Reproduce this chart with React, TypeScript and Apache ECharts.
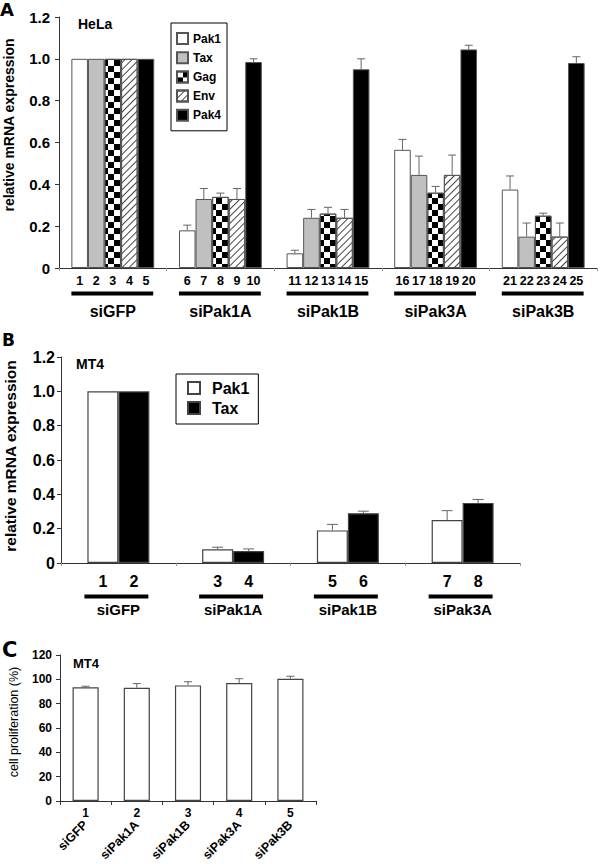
import React, { useEffect, useRef } from "react";
import * as echarts from "echarts";

// ---------- Panel A (HeLa) ----------
const groupsA = ["siGFP", "siPak1A", "siPak1B", "siPak3A", "siPak3B"];
const genesA = ["Pak1", "Tax", "Gag", "Env", "Pak4"];
const pak1A = [1.0, 0.18, 0.07, 0.565, 0.375];
const pak1ErrA = [0, 0.025, 0.015, 0.05, 0.065];
const taxA = [1.0, 0.33, 0.24, 0.445, 0.15];
const taxErrA = [0, 0.05, 0.04, 0.09, 0.065];
const gagA = [1.0, 0.34, 0.26, 0.36, 0.25];
const gagErrA = [0, 0.018, 0.03, 0.03, 0.012];
const envA = [1.0, 0.33, 0.24, 0.445, 0.15];
const envErrA = [0, 0.05, 0.04, 0.095, 0.065];
const pak4A = [1.0, 0.985, 0.95, 1.045, 0.98];
const pak4ErrA = [0, 0.015, 0.05, 0.02, 0.03];
const laneLabelsA = [
  ["1", "2", "3", "4", "5"],
  ["6", "7", "8", "9", "10"],
  ["11", "12", "13", "14", "15"],
  ["16", "17", "18", "19", "20"],
  ["21", "22", "23", "24", "25"],
];

// ---------- Panel B (MT4) ----------
const groupsB = ["siGFP", "siPak1A", "siPak1B", "siPak3A"];
const genesB = ["Pak1", "Tax"];
const pak1B = [1.0, 0.08, 0.19, 0.25];
const pak1ErrB = [0, 0.012, 0.035, 0.055];
const taxB = [1.0, 0.07, 0.29, 0.35];
const taxErrB = [0, 0.012, 0.012, 0.02];
const laneLabelsB = [["1", "2"], ["3", "4"], ["5", "6"], ["7", "8"]];

// ---------- Panel C (MT4 proliferation) ----------
const groupsC = ["siGFP", "siPak1A", "siPak1B", "siPak3A", "siPak3B"];
const laneLabelsC = ["1", "2", "3", "4", "5"];
const prolifC = [93.5, 93, 95, 97, 100.5];
const prolifErrC = [0.8, 3.5, 3, 3.5, 2];

const FF = "'Liberation Sans', Arial, sans-serif";
const FN = "'Liberation Sans Narrow', 'Liberation Sans', Arial, sans-serif";
const FL = "'DejaVu Sans', 'Liberation Sans', sans-serif";

const GAP_A = 0.23;
const GAP_B = 0.46;
const GAP_C = 0.49;

const checkerDecal = {
  symbol: "rect",
  symbolSize: 1,
  color: "#000",
  dashArrayX: [
    [5.5, 5.5],
    [0, 5.5, 5.5, 0],
  ],
  dashArrayY: [5.5, 0],
  rotation: 0,
};
const hatchDecal = {
  symbol: "rect",
  symbolSize: 1,
  color: "#444",
  dashArrayX: [1, 0],
  dashArrayY: [1, 4],
  rotation: -Math.PI / 4,
};

function errRenderer(k: number, n: number, gap: number, cap: number) {
  return (params: any, api: any) => {
    const cat = api.value(0);
    const v = api.value(1);
    const e = api.value(2);
    if (!e) return null;
    const band = api.size([1, 0])[0];
    const bw = (band * (1 - gap)) / n;
    const base = api.coord([cat, v]);
    const x = base[0] + (k - (n - 1) / 2) * bw;
    const top = api.coord([cat, v + e])[1];
    return {
      type: "group",
      children: [
        { type: "line", shape: { x1: x, y1: base[1], x2: x, y2: top }, style: { stroke: "#666", lineWidth: 1 } },
        { type: "line", shape: { x1: x - cap, y1: top, x2: x + cap, y2: top }, style: { stroke: "#666", lineWidth: 1 } },
      ],
    };
  };
}

function laneRenderer(
  n: number,
  gap: number,
  lanes: string[][],
  o: { numOff: number; numSize: number; numFont: string; lineOff: number; lineExtL: number; lineExtR: number }
) {
  return (params: any, api: any) => {
    const cat = api.value(0);
    const band = api.size([1, 0])[0];
    const bw = (band * (1 - gap)) / n;
    const p = api.coord([cat, 0]);
    const cx = p[0];
    const y0 = p[1];
    const children: any[] = [];
    lanes[cat].forEach((t, j) => {
      const x = cx + (j - (n - 1) / 2) * bw;
      children.push({
        type: "text",
        x,
        y: y0 + o.numOff,
        style: {
          text: t,
          align: "center",
          verticalAlign: "middle",
          fontSize: o.numSize,
          fontWeight: "bold",
          fontFamily: o.numFont,
          fill: "#000",
        },
      });
    });
    children.push({
      type: "rect",
      shape: {
        x: cx - (n * bw) / 2 + o.lineExtL,
        y: y0 + o.lineOff - 2,
        width: n * bw - o.lineExtL + o.lineExtR,
        height: 4,
      },
      style: { fill: "#000" },
    });
    return { type: "group", children };
  };
}

const yFmt1 = (v: number) => (v === 0 ? "0" : v.toFixed(1));

export default function App() {
  const ref = useRef<HTMLDivElement>(null);

  useEffect(() => {
    if (!ref.current) return;
    const chart = echarts.init(ref.current, null, { renderer: "svg" });

    const barStyleA = [
      { color: "#ffffff", borderColor: "#555", borderWidth: 1 },
      { color: "#c0c0c0", borderColor: "#555", borderWidth: 1 },
      { color: "#ffffff", borderColor: "#555", borderWidth: 1, decal: checkerDecal },
      { color: "#ffffff", borderColor: "#555", borderWidth: 1, decal: hatchDecal },
      { color: "#000000", borderColor: "#555", borderWidth: 1 },
    ];
    const valsA = [pak1A, taxA, gagA, envA, pak4A];
    const errsA = [pak1ErrA, taxErrA, gagErrA, envErrA, pak4ErrA];

    const series: any[] = [];
    genesA.forEach((g, k) => {
      series.push({
        type: "bar",
        name: g,
        xAxisIndex: 0,
        yAxisIndex: 0,
        data: valsA[k],
        barGap: "0%",
        barCategoryGap: GAP_A * 100 + "%",
        itemStyle: barStyleA[k],
        z: 2,
      });
    });
    genesA.forEach((g, k) => {
      series.push({
        type: "custom",
        name: g + " error",
        xAxisIndex: 0,
        yAxisIndex: 0,
        z: 3,
        silent: true,
        data: valsA[k].map((v, i) => [i, v, errsA[k][i]]),
        renderItem: errRenderer(k, 5, GAP_A, 4),
      });
    });
    series.push({
      type: "custom",
      name: "lanesA",
      xAxisIndex: 0,
      yAxisIndex: 0,
      silent: true,
      data: groupsA.map((_, i) => [i, 0]),
      renderItem: laneRenderer(5, GAP_A, laneLabelsA, {
        numOff: 13,
        numSize: 12.5,
        numFont: FN,
        lineOff: 25.5,
        lineExtL: 0,
        lineExtR: -1,
      }),
    });

    // Panel B
    const valsB = [pak1B, taxB];
    const errsB = [pak1ErrB, taxErrB];
    const barStyleB = [
      { color: "#ffffff", borderColor: "#444", borderWidth: 1.2 },
      { color: "#000000", borderColor: "#444", borderWidth: 1.2 },
    ];
    genesB.forEach((g, k) => {
      series.push({
        type: "bar",
        name: g + " (MT4)",
        xAxisIndex: 1,
        yAxisIndex: 1,
        data: valsB[k],
        barGap: "0%",
        barCategoryGap: GAP_B * 100 + "%",
        itemStyle: barStyleB[k],
      });
    });
    genesB.forEach((g, k) => {
      series.push({
        type: "custom",
        name: g + " (MT4) error",
        xAxisIndex: 1,
        yAxisIndex: 1,
        z: 3,
        silent: true,
        data: valsB[k].map((v, i) => [i, v, errsB[k][i]]),
        renderItem: errRenderer(k, 2, GAP_B, 5.5),
      });
    });
    series.push({
      type: "custom",
      name: "lanesB",
      xAxisIndex: 1,
      yAxisIndex: 1,
      silent: true,
      data: groupsB.map((_, i) => [i, 0]),
      renderItem: laneRenderer(2, GAP_B, laneLabelsB, {
        numOff: 18.5,
        numSize: 16,
        numFont: FF,
        lineOff: 33.5,
        lineExtL: -3,
        lineExtR: -1,
      }),
    });

    // Panel C
    series.push({
      type: "bar",
      name: "proliferation",
      xAxisIndex: 2,
      yAxisIndex: 2,
      data: prolifC,
      barCategoryGap: GAP_C * 100 + "%",
      itemStyle: { color: "#ffffff", borderColor: "#444", borderWidth: 1.2 },
    });
    series.push({
      type: "custom",
      name: "proliferation error",
      xAxisIndex: 2,
      yAxisIndex: 2,
      z: 3,
      silent: true,
      data: prolifC.map((v, i) => [i, v, prolifErrC[i]]),
      renderItem: errRenderer(0, 1, GAP_C, 4),
    });

    const axisLineStyle = { color: "#333", width: 1 };

    const option: any = {
      animation: false,
      backgroundColor: "#ffffff",
      textStyle: { fontFamily: FF },
      grid: [
        { left: 59, top: 17, width: 538, height: 251 },
        { left: 61, top: 357, width: 459, height: 206 },
        { left: 60, top: 655, width: 256, height: 148 },
      ],
      xAxis: [
        {
          gridIndex: 0,
          type: "category",
          data: groupsA,
          axisLine: { lineStyle: axisLineStyle },
          axisTick: { show: true, length: 3, lineStyle: { color: "#999" } },
          axisLabel: { margin: 35, fontSize: 16, fontWeight: "bold", color: "#000", fontFamily: FF },
        },
        {
          gridIndex: 1,
          type: "category",
          data: groupsB,
          axisLine: { lineStyle: axisLineStyle },
          axisTick: { show: true, length: 3, lineStyle: { color: "#999" } },
          axisLabel: { margin: 39, fontSize: 15, fontWeight: "bold", color: "#000", fontFamily: FF },
        },
        {
          gridIndex: 2,
          type: "category",
          position: "bottom",
          data: groupsC,
          axisLine: { lineStyle: axisLineStyle },
          axisTick: { show: true, length: 4, lineStyle: { color: "#333" } },
          axisLabel: { margin: 22, rotate: 45, fontSize: 12.5, fontWeight: "bold", color: "#000", fontFamily: FF },
        },
        {
          gridIndex: 2,
          type: "category",
          position: "bottom",
          data: laneLabelsC,
          axisLine: { show: false },
          axisTick: { show: false },
          axisLabel: { margin: 6, fontSize: 12, fontWeight: "bold", color: "#000", fontFamily: FF },
        },
      ],
      yAxis: [
        {
          gridIndex: 0,
          type: "value",
          min: 0,
          max: 1.2,
          interval: 0.2,
          splitLine: { show: false },
          axisLine: { show: true, lineStyle: axisLineStyle },
          axisTick: { show: true, length: 4, lineStyle: { color: "#333" } },
          axisLabel: { margin: 9, fontSize: 15, fontWeight: "bold", color: "#000", formatter: yFmt1, fontFamily: FF },
        },
        {
          gridIndex: 1,
          type: "value",
          min: 0,
          max: 1.2,
          interval: 0.2,
          splitLine: { show: false },
          axisLine: { show: true, lineStyle: axisLineStyle },
          axisTick: { show: true, length: 4, lineStyle: { color: "#333" } },
          axisLabel: { margin: 6, fontSize: 16, fontWeight: "bold", color: "#000", formatter: yFmt1, fontFamily: FF },
        },
        {
          gridIndex: 2,
          type: "value",
          min: 0,
          max: 120,
          interval: 20,
          splitLine: { show: false },
          axisLine: { show: true, lineStyle: axisLineStyle },
          axisTick: { show: true, length: 4, lineStyle: { color: "#333" } },
          axisLabel: { margin: 8, fontSize: 12, fontWeight: "bold", color: "#000", fontFamily: FF },
        },
      ],
      legend: [
        {
          data: genesA,
          orient: "vertical",
          left: 171,
          top: 23,
          icon: "rect",
          itemWidth: 11,
          itemHeight: 11,
          itemGap: 6.2,
          padding: [9, 6, 9, 5],
          borderColor: "#000",
          borderWidth: 1,
          selectedMode: false,
          textStyle: { fontSize: 12, fontWeight: "bold", color: "#000", fontFamily: FF },
        },
        {
          data: genesB.map((g) => g + " (MT4)"),
          formatter: (name: string) => name.split(" ")[0],
          orient: "vertical",
          left: 176,
          top: 374,
          icon: "rect",
          itemWidth: 12,
          itemHeight: 12,
          itemGap: 4,
          padding: [6, 9, 8, 11],
          borderColor: "#000",
          borderWidth: 1,
          selectedMode: false,
          textStyle: { fontSize: 16, fontWeight: "bold", color: "#000", fontFamily: FF, padding: [0, 0, 0, 7] },
        },
      ],
      graphic: [
        { type: "text", x: 0, y: 9.5, style: { text: "A", fontSize: 18, fontWeight: "bold", fontFamily: FL, fill: "#000", verticalAlign: "middle" } },
        { type: "text", x: 78, y: 23.5, style: { text: "HeLa", fontSize: 14, fontWeight: "bold", fontFamily: FF, fill: "#000", verticalAlign: "middle" } },
        {
          type: "text",
          x: 9,
          y: 125,
          rotation: Math.PI / 2,
          style: { text: "relative mRNA expression", fontSize: 14, fontWeight: "bold", fontFamily: FF, fill: "#000", align: "center", verticalAlign: "middle" },
        },
        { type: "text", x: 2, y: 340, style: { text: "B", fontSize: 17, fontWeight: "bold", fontFamily: FL, fill: "#000", verticalAlign: "middle" } },
        { type: "text", x: 76, y: 364, style: { text: "MT4", fontSize: 14, fontWeight: "bold", fontFamily: FF, fill: "#000", verticalAlign: "middle" } },
        {
          type: "text",
          x: 10,
          y: 456,
          rotation: Math.PI / 2,
          style: { text: "relative mRNA expression", fontSize: 15.5, fontWeight: "bold", fontFamily: FF, fill: "#000", align: "center", verticalAlign: "middle" },
        },
        { type: "text", x: 2, y: 650, style: { text: "C", fontSize: 21, fontWeight: "bold", fontFamily: FL, fill: "#000", verticalAlign: "middle" } },
        { type: "text", x: 73, y: 663, style: { text: "MT4", fontSize: 13, fontWeight: "bold", fontFamily: FF, fill: "#000", verticalAlign: "middle" } },
        {
          type: "text",
          x: 14,
          y: 722,
          rotation: Math.PI / 2,
          style: { text: "cell proliferation (%)", fontSize: 12.5, fontFamily: FF, fill: "#000", align: "center", verticalAlign: "middle" },
        },
      ],
      series,
    };

    chart.setOption(option);
    return () => chart.dispose();
  }, []);

  return <div ref={ref} style={{ position: "absolute", left: 0, top: 0, width: 600, height: 864 }} />;
}
